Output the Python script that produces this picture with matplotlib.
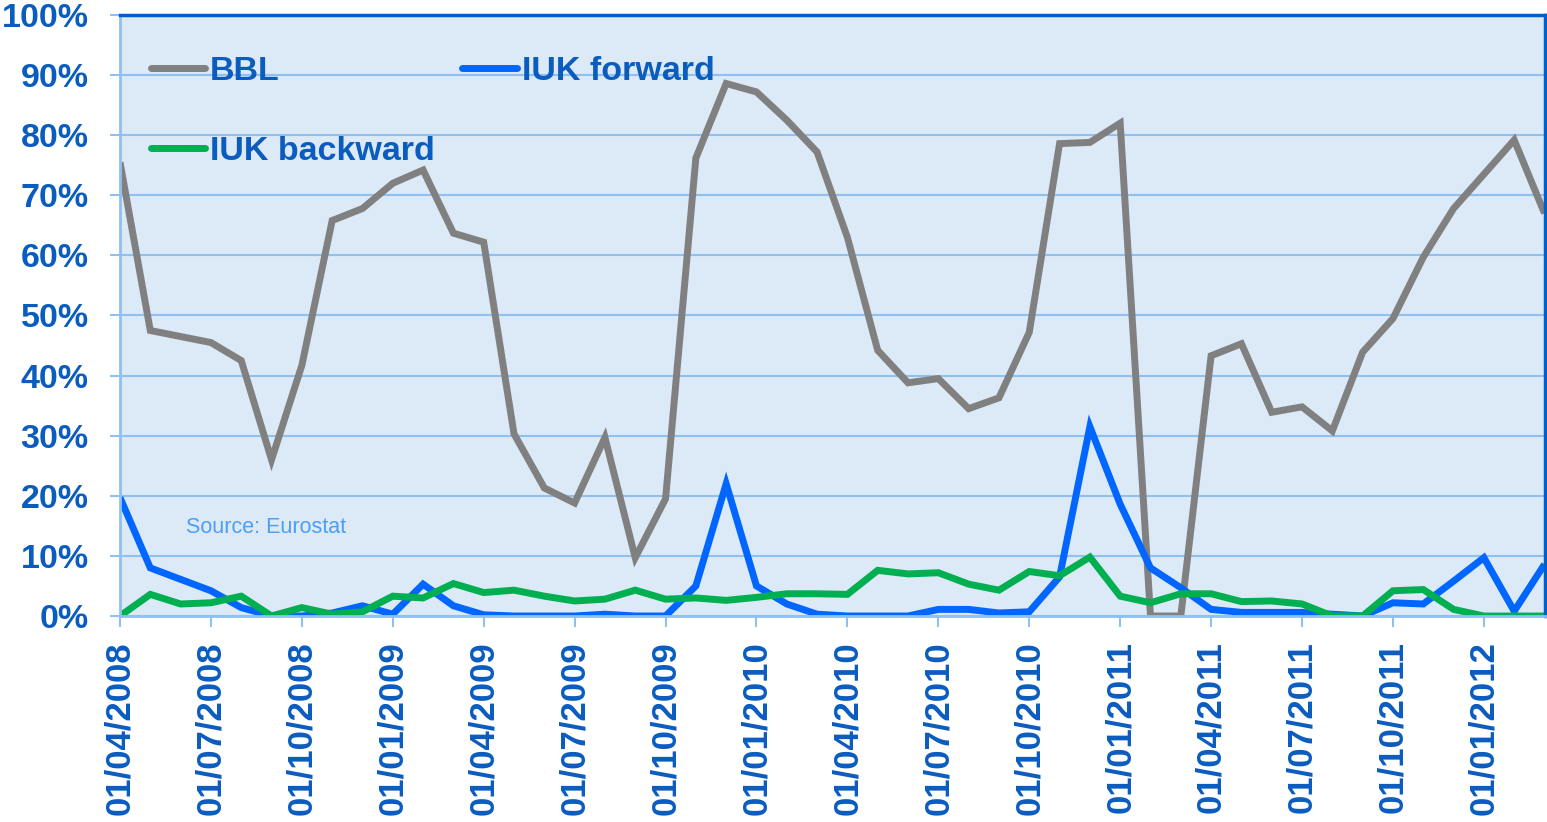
import matplotlib
matplotlib.use("Agg")
import matplotlib.pyplot as plt
import pandas as pd

# ---- data (monthly, 01/04/2008 .. 01/03/2012) ----
months = pd.date_range("2008-04-01", "2012-03-01", freq="MS")

bbl = [75.5, 47.5, 46.5, 45.5, 42.5, 26.0, 41.7, 65.8, 67.8, 72.0, 74.2, 63.7,
       62.2, 30.3, 21.3, 18.8, 29.7, 9.7, 19.5, 76.2, 88.6, 87.2, 82.5, 77.2,
       63.0, 44.2, 38.8, 39.5, 34.5, 36.3, 47.2, 78.6, 78.8, 82.0, 0.0, 0.0,
       43.3, 45.3, 33.9, 34.8, 30.8, 43.9, 49.5, 59.7, 67.8, 73.5, 79.2, 67.0]

iuk_forward = [19.7, 8.0, 6.1, 4.2, 1.4, 0.0, 0.0, 0.5, 1.7, 0.3, 5.3, 1.7,
               0.2, 0.0, 0.0, 0.0, 0.3, 0.0, 0.0, 5.0, 22.0, 5.0, 2.0, 0.3,
               0.0, 0.0, 0.0, 1.1, 1.1, 0.5, 0.7, 6.5, 31.5, 18.6, 8.0, 4.7,
               1.1, 0.6, 0.6, 0.6, 0.3, 0.0, 2.2, 2.0, 5.8, 9.7, 0.8, 8.6]

iuk_backward = [0.0, 3.6, 2.0, 2.2, 3.3, 0.0, 1.4, 0.3, 0.7, 3.3, 3.0, 5.4,
                3.9, 4.3, 3.3, 2.5, 2.8, 4.3, 2.8, 3.0, 2.6, 3.1, 3.7, 3.7,
                3.6, 7.6, 7.0, 7.2, 5.3, 4.3, 7.4, 6.7, 9.8, 3.3, 2.2, 3.7,
                3.7, 2.4, 2.5, 2.0, 0.0, 0.0, 4.2, 4.4, 1.1, 0.0, 0.0, 0.0]

series_names = ["BBL", "IUK forward", "IUK backward"]
y_ticks = list(range(0, 101, 10))
tick_step = 3

# ---- style ----
text_col = "#0a5cbf"
grid_col = "#8fc0f2"
c_bbl, c_fwd, c_bwd = "#808080", "#0066ff", "#00b050"
fam = ["Liberation Sans", "DejaVu Sans"]

fig = plt.figure(figsize=(15.47, 8.22), dpi=100)
ax = fig.add_axes([120 / 1547, 1 - 616 / 822, (1544.5 - 120) / 1547, (616 - 15) / 822])
ax.set_facecolor("#dce9f7")

x = list(range(len(months)))
lw = 5.0
l1, = ax.plot(x, bbl, color=c_bbl, lw=lw, label=series_names[0], zorder=3,
              solid_joinstyle="miter", solid_capstyle="butt")
l2, = ax.plot(x, iuk_forward, color=c_fwd, lw=lw, label=series_names[1], zorder=4,
              solid_joinstyle="miter", solid_capstyle="butt")
l3, = ax.plot(x, iuk_backward, color=c_bwd, lw=lw, label=series_names[2], zorder=5,
              solid_joinstyle="miter", solid_capstyle="butt")

ax.set_xlim(0, len(months) - 1)
ax.set_ylim(0, 100)
ax.set_yticks(y_ticks)
ax.set_yticklabels([f"{v}%" for v in y_ticks])
tick_pos = x[::tick_step]
ax.set_xticks(tick_pos)
ax.set_xticklabels([months[i].strftime("%d/%m/%Y") for i in tick_pos], rotation=90)

ax.grid(axis="y", color=grid_col, lw=1.5, zorder=1)
ax.set_axisbelow(True)

ax.tick_params(axis="y", colors=grid_col, length=7, width=1.5, pad=15.5,
               labelcolor=text_col, labelsize=24.5)
ax.tick_params(axis="x", colors=grid_col, length=8, width=1.5, pad=10,
               labelcolor=text_col, labelsize=25)
for lab in ax.get_xticklabels() + ax.get_yticklabels():
    lab.set_fontfamily(fam)
    lab.set_fontweight("bold")

ax.spines["left"].set_color(grid_col)
ax.spines["left"].set_linewidth(2)
ax.spines["bottom"].set_color(grid_col)
ax.spines["bottom"].set_linewidth(2)
ax.spines["top"].set_color("#0060c8")
ax.spines["top"].set_linewidth(2.5)
ax.spines["right"].set_color("#0060c8")
ax.spines["right"].set_linewidth(2.5)
for s in ax.spines.values():
    s.set_zorder(6)

leg = ax.legend(handles=[l1, l3, l2], ncol=2, loc="upper left",
                bbox_to_anchor=(0.0, 1.0 - 10 / 601), frameon=False,
                prop={"family": fam, "weight": "bold", "size": 24.5},
                handlelength=1.6, handletextpad=0.15, columnspacing=0.8,
                labelspacing=1.45, borderaxespad=0.6, borderpad=0.3)
for t in leg.get_texts():
    t.set_color(text_col)
for h in leg.get_lines():
    h.set_solid_capstyle("round")

src = fig.text(186 / 1547, 1 - 527 / 822, "Source: Eurostat", fontsize=15.5,
               color="#4d9ef5", family=fam, va="center", ha="left")

fig.savefig("out.png", dpi=100)
